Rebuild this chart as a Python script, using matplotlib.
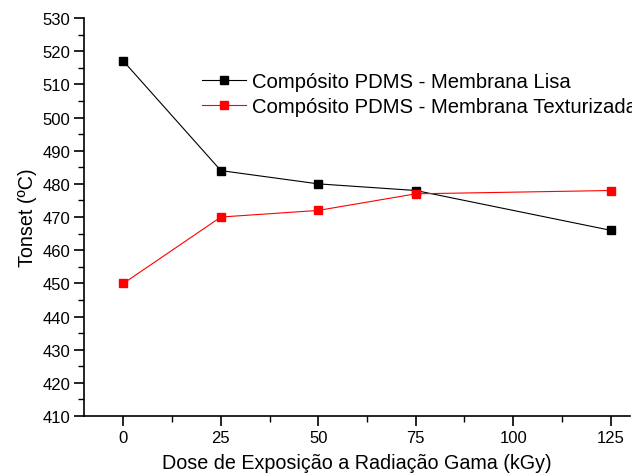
import matplotlib
matplotlib.use("Agg")
import matplotlib.pyplot as plt
from matplotlib.ticker import MultipleLocator

plt.rcParams['font.family'] = ['Liberation Sans', 'DejaVu Sans']

dose = [0, 25, 50, 75, 125]
lisa = [517, 484, 480, 478, 466]
texturizada = [450, 470, 472, 477, 478]

fig = plt.figure(figsize=(6.32, 4.77), dpi=100)
ax = fig.add_axes([0.1337, 0.1258, 0.8633, 0.8342])

ax.plot(dose, lisa, color='black', lw=0.8, marker='s', ms=5.5,
        label='Compósito PDMS - Membrana Lisa')
ax.plot(dose, texturizada, color='red', lw=0.8, marker='s', ms=5.5,
        label='Compósito PDMS - Membrana Texturizada')

ax.set_xlim(-10, 130)
ax.set_ylim(410, 530)
ax.xaxis.set_major_locator(MultipleLocator(25))
ax.xaxis.set_minor_locator(MultipleLocator(12.5))
ax.yaxis.set_major_locator(MultipleLocator(10))
ax.yaxis.set_minor_locator(MultipleLocator(5))

for s in ['top', 'right']:
    ax.spines[s].set_visible(False)
for s in ['left', 'bottom']:
    ax.spines[s].set_linewidth(1.2)

ax.tick_params(which='major', direction='out', length=7, width=1.2, labelsize=12, pad=3)
ax.tick_params(which='minor', direction='out', length=4, width=1.0)

ax.set_xlabel('Dose de Exposição a Radiação Gama (kGy)', fontsize=14.2, labelpad=6)
ax.set_ylabel('Tonset (ºC)', fontsize=14.2, labelpad=4)

ax.legend(loc='upper left', bbox_to_anchor=(0.215, 0.864), frameon=False,
          fontsize=14.6, handlelength=2.2, handletextpad=0.3,
          labelspacing=0.3, borderpad=0, borderaxespad=0)

fig.savefig('out.png', dpi=100)
